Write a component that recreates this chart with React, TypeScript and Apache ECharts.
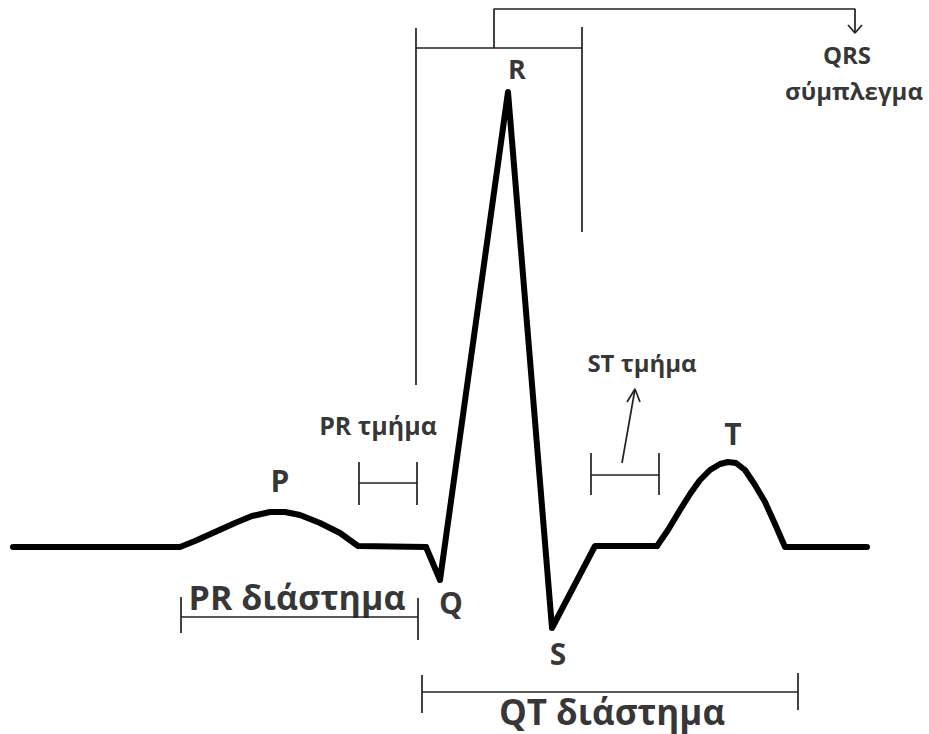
import React, { useEffect, useRef } from "react";
import * as echarts from "echarts";

// ECG trace (pixel-space coordinates of the diagram)
const baselinePX = [13, 180, 195, 215, 235, 252, 270, 285, 300, 320, 340, 358, 426];
const baselinePY = [547, 547, 541, 532, 523, 516, 512, 512, 515, 523, 533, 546, 547];
const qrsX = [426, 440, 508, 552, 595, 657];
const qrsY = [547, 580, 92, 628, 546, 546];
const tWaveX = [657, 668, 680, 690, 700, 710, 720, 728, 736, 745, 755, 765, 775, 785, 867];
const tWaveY = [546, 530, 510, 494, 480, 470, 464, 462, 463, 470, 485, 502, 524, 547, 547];

// annotation brackets: each is a polyline [xs, ys]
const bracketXs = [
  [494, 494, 855, 855],
  [848, 855, 862],
  [416, 416],
  [416, 582],
  [582, 582],
  [359, 359],
  [359, 417],
  [417, 417],
  [591, 591],
  [591, 659],
  [659, 659],
  [622, 635],
  [627, 635, 640],
  [181, 181],
  [181, 418],
  [418, 418],
  [422, 422],
  [422, 798],
  [798, 798],
];
const bracketYs = [
  [48, 9, 9, 33],
  [25, 33, 25],
  [385, 28],
  [48, 48],
  [27, 232],
  [462, 505],
  [483, 483],
  [462, 505],
  [453, 495],
  [475, 475],
  [453, 495],
  [463, 389],
  [402, 389, 402],
  [597, 633],
  [617, 617],
  [598, 640],
  [675, 713],
  [692, 692],
  [673, 710],
];

// labels
const labelTexts = ["R", "P", "Q", "S", "T", "QRS", "σύμπλεγμα", "PR τμήμα", "ST τμήμα", "PR διάστημα", "QT διάστημα"];
const labelX = [517, 280, 451, 558, 733, 847, 854, 378, 642, 297, 612];
const labelY = [68, 480, 602, 653, 433, 54, 90, 425, 362, 597, 711];
const labelSize = [27, 30, 30, 30, 30, 24, 24, 25, 24, 34, 35];

const zip = (xs: number[], ys: number[]) => xs.map((x, i) => [x, ys[i]]);

export default function App() {
  const ref = useRef<HTMLDivElement>(null);
  useEffect(() => {
    if (!ref.current) return;
    const chart = echarts.init(ref.current, null, { renderer: "svg" });
    const traceStyle = { color: "#000", width: 6, cap: "round" as const, join: "round" as const };
    const series: any[] = [];
    [[baselinePX, baselinePY], [qrsX, qrsY], [tWaveX, tWaveY]].forEach(([xs, ys]) => {
      series.push({
        type: "line",
        data: zip(xs, ys),
        showSymbol: false,
        symbol: "none",
        lineStyle: traceStyle,
        clip: false,
        silent: true,
      });
    });
    bracketXs.forEach((xs, i) => {
      series.push({
        type: "line",
        data: zip(xs, bracketYs[i]),
        symbol: "none",
        lineStyle: { color: "#222", width: 1.7 },
        clip: false,
        silent: true,
      });
    });
    series.push({
      type: "scatter",
      symbolSize: 0,
      silent: true,
      clip: false,
      data: labelTexts.map((t, i) => ({
        value: [labelX[i], labelY[i]],
        label: {
          show: true,
          position: "inside",
          formatter: t,
          fontSize: labelSize[i],
          fontWeight: "bold",
          fontFamily: "Open Sans",
          color: "#000",
        },
      })),
    });
    chart.setOption({
      animation: false,
      backgroundColor: "#fff",
      grid: { left: 0, right: 0, top: 0, bottom: 0 },
      xAxis: { type: "value", min: 0, max: 929, show: false },
      yAxis: { type: "value", min: 0, max: 734, inverse: true, show: false },
      series,
    });
    return () => chart.dispose();
  }, []);
  return (
    <div
      ref={ref}
      style={{ position: "fixed", left: 0, top: 0, width: 929, height: 734, background: "#fff" }}
    />
  );
}
